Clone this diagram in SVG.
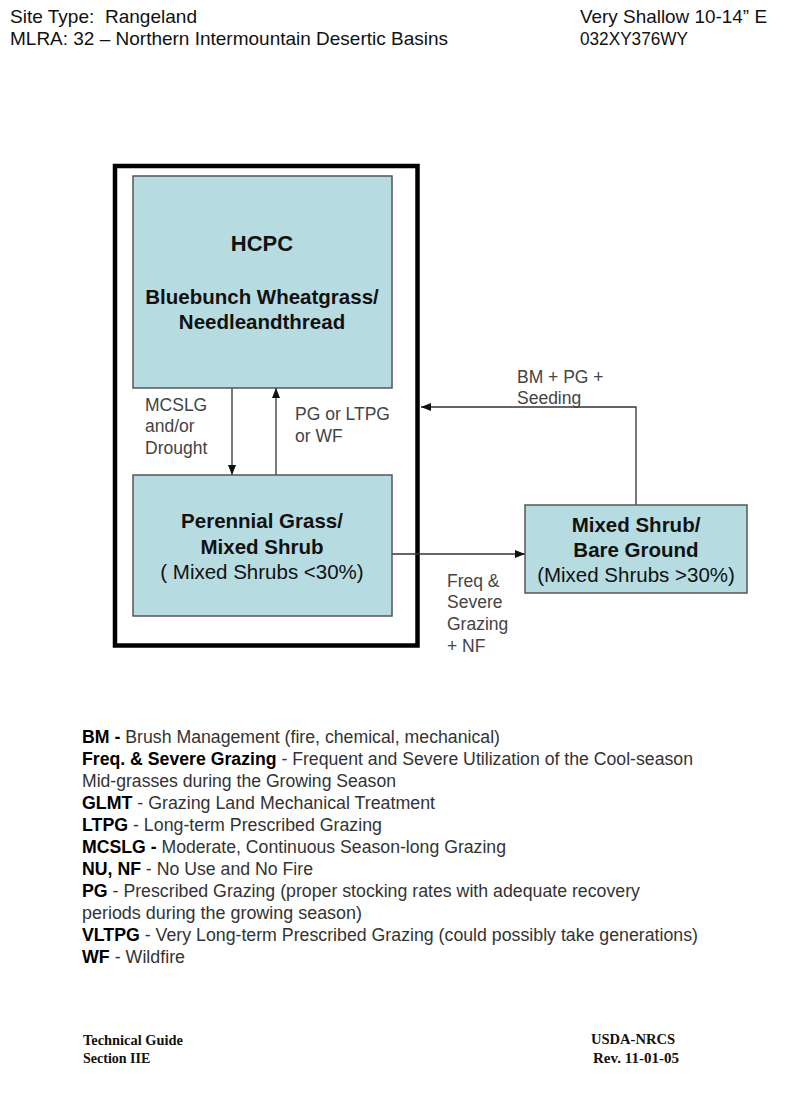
<svg xmlns="http://www.w3.org/2000/svg" width="800" height="1108" viewBox="0 0 800 1108">
<defs>
<style>
.hdr{font-family:"Liberation Sans",Arial,sans-serif;font-size:18.5px;fill:#111;white-space:pre}
.node{fill:#b6dce2;stroke:#555;stroke-width:1.5}
.nb{font-family:"Liberation Sans",Arial,sans-serif;font-weight:bold;font-size:20.5px;fill:#111;text-anchor:middle}
.nr{font-family:"Liberation Sans",Arial,sans-serif;font-size:20.5px;fill:#111;text-anchor:middle}
.lbl{font-family:"Liberation Sans",Arial,sans-serif;font-size:17.5px;fill:#444}
.leg{font-family:"Liberation Sans",Arial,sans-serif;font-size:17.5px;fill:#333}
.leg .b{font-weight:bold;fill:#000}
.ftr{font-family:"Liberation Serif","Times New Roman",serif;font-weight:bold;font-size:14px;fill:#111}
.conn{stroke:#333;stroke-width:1.3;fill:none}
</style>
<marker id="ah" viewBox="0 0 10 8" refX="10" refY="4" markerWidth="10" markerHeight="8" markerUnits="userSpaceOnUse" orient="auto">
<path d="M0,0 L10,4 L0,8 Z" fill="#111"/>
</marker>
</defs>
<rect width="800" height="1108" fill="#fff"/>

<g id="header">
<text class="hdr" x="10" y="23" textLength="187" lengthAdjust="spacingAndGlyphs">Site Type:&#160; Rangeland</text>
<text class="hdr" x="10" y="45" textLength="438" lengthAdjust="spacingAndGlyphs">MLRA: 32 – Northern Intermountain Desertic Basins</text>
<text class="hdr" x="580" y="23" textLength="187" lengthAdjust="spacingAndGlyphs">Very Shallow 10-14” E</text>
<text class="hdr" x="580" y="45" textLength="108" lengthAdjust="spacingAndGlyphs">032XY376WY</text>
</g>

<g id="outer-box">
<rect x="115" y="166" width="302.5" height="479.5" fill="none" stroke="#000" stroke-width="4.5"/>
</g>

<g id="connectors">
<line class="conn" x1="232" y1="388" x2="232" y2="475" marker-end="url(#ah)"/>
<line class="conn" x1="276" y1="475" x2="276" y2="388" marker-end="url(#ah)"/>
<line class="conn" x1="392" y1="554" x2="525" y2="554" marker-end="url(#ah)"/>
<polyline class="conn" points="636,505 636,407 421,407" marker-end="url(#ah)"/>
<text class="lbl" x="145" y="411">MCSLG</text>
<text class="lbl" x="145" y="432">and/or</text>
<text class="lbl" x="145" y="454">Drought</text>
<text class="lbl" x="295" y="420">PG or LTPG</text>
<text class="lbl" x="295" y="442">or WF</text>
<text class="lbl" x="517" y="383">BM + PG +</text>
<text class="lbl" x="517" y="404">Seeding</text>
<text class="lbl" x="447" y="587">Freq &amp;</text>
<text class="lbl" x="447" y="608">Severe</text>
<text class="lbl" x="447" y="630">Grazing</text>
<text class="lbl" x="447" y="652">+ NF</text>
</g>

<g id="hcpc">
<rect class="node" x="133" y="176" width="259" height="212"/>
<text class="nb" x="262" y="251" style="font-size:22px">HCPC</text>
<text class="nb" x="262" y="304">Bluebunch Wheatgrass/</text>
<text class="nb" x="262" y="329">Needleandthread</text>
</g>

<g id="perennial-grass">
<rect class="node" x="133" y="475" width="259" height="141"/>
<text class="nb" x="262" y="528">Perennial Grass/</text>
<text class="nb" x="262" y="554">Mixed Shrub</text>
<text class="nr" x="262" y="579">( Mixed Shrubs &lt;30%)</text>
</g>

<g id="mixed-shrub">
<rect class="node" x="525" y="505" width="222" height="88"/>
<text class="nb" x="636" y="532">Mixed Shrub/</text>
<text class="nb" x="636" y="557">Bare Ground</text>
<text class="nr" x="636" y="582">(Mixed Shrubs &gt;30%)</text>
</g>

<g id="legend" class="leg">
<text x="82" y="743" textLength="418" lengthAdjust="spacingAndGlyphs"><tspan class="b">BM - </tspan>Brush Management (fire, chemical, mechanical)</text>
<text x="82" y="765" textLength="611" lengthAdjust="spacingAndGlyphs"><tspan class="b">Freq. &amp; Severe Grazing</tspan> - Frequent and Severe Utilization of the Cool-season</text>
<text x="82" y="787" textLength="314" lengthAdjust="spacingAndGlyphs">Mid-grasses during the Growing Season</text>
<text x="82" y="809" textLength="353" lengthAdjust="spacingAndGlyphs"><tspan class="b">GLMT</tspan> - Grazing Land Mechanical Treatment</text>
<text x="82" y="831" textLength="300" lengthAdjust="spacingAndGlyphs"><tspan class="b">LTPG</tspan> - Long-term Prescribed Grazing</text>
<text x="82" y="853" textLength="424" lengthAdjust="spacingAndGlyphs"><tspan class="b">MCSLG - </tspan>Moderate, Continuous Season-long Grazing</text>
<text x="82" y="875" textLength="231" lengthAdjust="spacingAndGlyphs"><tspan class="b">NU, NF</tspan> - No Use and No Fire</text>
<text x="82" y="897" textLength="558" lengthAdjust="spacingAndGlyphs"><tspan class="b">PG</tspan> - Prescribed Grazing (proper stocking rates with adequate recovery</text>
<text x="82" y="919" textLength="280" lengthAdjust="spacingAndGlyphs">periods during the growing season)</text>
<text x="82" y="941" textLength="616" lengthAdjust="spacingAndGlyphs"><tspan class="b">VLTPG</tspan> - Very Long-term Prescribed Grazing (could possibly take generations)</text>
<text x="82" y="963" textLength="103" lengthAdjust="spacingAndGlyphs"><tspan class="b">WF</tspan> - Wildfire</text>
</g>

<g id="footer">
<text class="ftr" x="83" y="1045" textLength="100" lengthAdjust="spacingAndGlyphs">Technical Guide</text>
<text class="ftr" x="83" y="1063">Section IIE</text>
<text class="ftr" x="591" y="1044" textLength="84" lengthAdjust="spacingAndGlyphs">USDA-NRCS</text>
<text class="ftr" x="593" y="1063" textLength="86" lengthAdjust="spacingAndGlyphs">Rev. 11-01-05</text>
</g>
</svg>
